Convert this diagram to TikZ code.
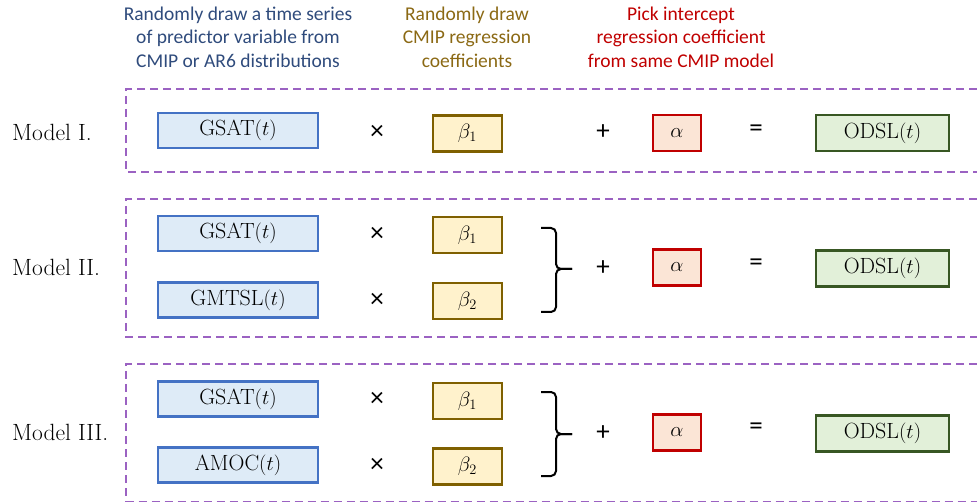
\documentclass[tikz,border=0pt]{standalone}
\usepackage{fontspec}
\newfontfamily\headfont{Carlito}
\usetikzlibrary{positioning}
\definecolor{hblue}{HTML}{2F4B7C}
\definecolor{hgold}{HTML}{8B6914}
\definecolor{hred}{HTML}{C00000}
\definecolor{predfill}{HTML}{DEEBF7}
\definecolor{predline}{HTML}{4472C4}
\definecolor{coeffill}{HTML}{FFF2CC}
\definecolor{coefline}{HTML}{7F6000}
\definecolor{intfill}{HTML}{FBE5D6}
\definecolor{intline}{HTML}{C00000}
\definecolor{outfill}{HTML}{E2F0D9}
\definecolor{outline}{HTML}{385723}
\definecolor{frame}{HTML}{9B62C2}
\tikzset{
  x=1pt, y=-1pt,
  header/.style={align=center, font=\headfont\fontsize{19.5}{23.5}\selectfont},
  modellabel/.style={anchor=west, inner sep=0pt, font=\fontsize{23.5}{27}\selectfont},
  boxtext/.style={font=\fontsize{22}{24}\selectfont, inner sep=0pt, line width=2.4pt},
  predbox/.style={boxtext, draw=predline, fill=predfill, minimum width=160pt, minimum height=35pt},
  coefbox/.style={boxtext, draw=coefline, fill=coeffill, minimum width=69pt, minimum height=36pt},
  intbox/.style={boxtext, draw=intline, fill=intfill, minimum width=48pt, minimum height=36pt},
  outbox/.style={boxtext, draw=outline, fill=outfill, minimum width=133pt, minimum height=36pt},
  opsym/.style={font=\headfont\fontsize{27}{29}\selectfont, inner sep=0pt},
  groupframe/.style={draw=frame, line width=1.5pt, dash pattern=on 8pt off 5pt},
  bracepath/.style={draw=black, line width=2pt, rounded corners=5pt},
}
\begin{document}
\begin{tikzpicture}
\useasboundingbox (0,0) rectangle (977,502);

% column headings
\node[header, text=hblue] (h1) at (238,37) {Randomly draw a time series\\of predictor variable from\\CMIP or AR6 distributions};
\node[header, text=hgold] (h2) at (467,37) {Randomly draw\\CMIP regression\\coefficients};
\node[header, text=hred] (h3) at (681,37) {Pick intercept\\regression coefficient\\from same CMIP model};

% dashed group frames (open on the right)
\draw[groupframe] (977,89) -- (126,89) -- (126,172) -- (977,172);
\draw[groupframe] (977,199) -- (126,199) -- (126,337) -- (977,337);
\draw[groupframe] (977,364) -- (126,364) -- (126,501.5) -- (977,501.5);

% Model I
\node[modellabel] (m1) at (12,132) {Model I.};
\node[predbox] (p1) at (238,130.5) {GSAT$(t)$};
\node[opsym] (x1) at (377,132) {×};
\node[coefbox] (b1) at (467.5,133.5) {$\beta_1$};
\node[opsym] (s1) at (603,132) {+};
\node[intbox] (a1) at (677,133) {$\alpha$};
\node[opsym] (e1) at (756,131) {=};
\node[outbox] (o1) at (882.5,133) {ODSL$(t)$};

% Model II
\node[modellabel] (m2) at (12,267) {Model II.};
\node[predbox] (p2a) at (238,233.5) {GSAT$(t)$};
\node[predbox] (p2b) at (238,300) {GMTSL$(t)$};
\node[opsym] (x2a) at (377,234) {×};
\node[opsym] (x2b) at (377,300) {×};
\node[coefbox] (b2a) at (467.5,235) {$\beta_1$};
\node[coefbox] (b2b) at (467.5,301) {$\beta_2$};
\node[opsym] (s2) at (603,268) {+};
\node[intbox] (a2) at (677,267.5) {$\alpha$};
\node[opsym] (e2) at (756,265) {=};
\node[outbox] (o2) at (882.5,268.5) {ODSL$(t)$};
\coordinate (br2t) at (541,228);
\coordinate (br2b) at (541,312);
\coordinate (br2m) at (572,269);
\draw[bracepath] (br2t) -- (556,228) -- (556,269) -- (br2m);
\draw[bracepath] (br2b) -- (556,312) -- (556,269) -- (br2m);

% Model III
\node[modellabel] (m3) at (12,432) {Model III.};
\node[predbox] (p3a) at (238,399) {GSAT$(t)$};
\node[predbox] (p3b) at (238,465) {AMOC$(t)$};
\node[opsym] (x3a) at (377,399) {×};
\node[opsym] (x3b) at (377,465) {×};
\node[coefbox] (b3a) at (467.5,401) {$\beta_1$};
\node[coefbox] (b3b) at (467.5,466.5) {$\beta_2$};
\node[opsym] (s3) at (603,433) {+};
\node[intbox] (a3) at (677,432.5) {$\alpha$};
\node[opsym] (e3) at (756,429) {=};
\node[outbox] (o3) at (882.5,433.5) {ODSL$(t)$};
\coordinate (br3t) at (541,392);
\coordinate (br3b) at (541,476);
\coordinate (br3m) at (572,434);
\draw[bracepath] (br3t) -- (556,392) -- (556,434) -- (br3m);
\draw[bracepath] (br3b) -- (556,476) -- (556,434) -- (br3m);
\end{tikzpicture}
\end{document}
